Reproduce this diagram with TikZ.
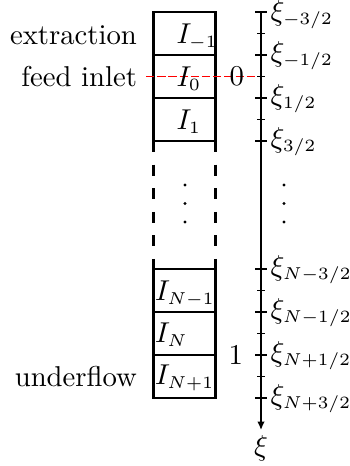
\documentclass[tikz,border=0pt]{standalone}
\usetikzlibrary{arrows.meta}
\DeclareMathSizes{10}{10}{6}{5}
\begin{document}
\begin{tikzpicture}[x=0.3484pt,y=-0.3484pt,
  cell/.style={draw,line width=0.7pt,minimum width=21.6pt,minimum height=14.98pt,inner sep=0pt,outer sep=0pt},
  gapline/.style={line width=0.7pt,dash pattern=on 3.83pt off 4.39pt},
  ilab/.style={inner sep=0pt,anchor=base west},
  leftlab/.style={inner sep=0pt,anchor=base east},
  xilab/.style={inner sep=0pt,anchor=base west},
  axisline/.style={line width=0.5pt,-{Latex[length=2.9pt,width=2.6pt]}},
  majtick/.style={line width=0.45pt},
  mintick/.style={line width=0.45pt},
  feedline/.style={red,line width=0.4pt,dash pattern=on 2.9pt off 1pt},
  dotmark/.style={circle,fill,inner sep=0pt,minimum size=1.2pt}]
\useasboundingbox (0,0) rectangle (349,466);
% cells
\node[cell] (cm1) at (184.5,33.5) {};
\node[cell] (c0)  at (184.5,76.5) {};
\node[cell] (c1)  at (184.5,119.5) {};
\node[cell] (cNm1) at (184.5,290.5) {};
\node[cell] (cN)  at (184.5,333.5) {};
\node[cell] (cNp1) at (184.5,376.5) {};
% dashed sides
\draw[gapline] (c1.south west) -- (cNm1.north west);
\draw[gapline] (c1.south east) -- (cNm1.north east);
% dots
\node[dotmark] (dl1) at (185,185) {};
\node[dotmark] (dl2) at (185,203.5) {};
\node[dotmark] (dl3) at (185,222) {};
\node[dotmark] (dr1) at (284,185) {};
\node[dotmark] (dr2) at (284,203.5) {};
\node[dotmark] (dr3) at (284,222) {};
% axis
\coordinate (axtop) at (261,12);
\coordinate (axend) at (261,430);
\draw[axisline] (axtop) -- (axend);
\foreach \y in {12,55,98,141,269,312,355,398}
  \draw[majtick] (255,\y) -- (267,\y);
\foreach \y in {33.5,76.5,119.5,290.5,333.5,376.5}
  \draw[mintick] (257,\y) -- (265,\y);
% feed line
\coordinate (feedL) at (146,76.5);
\coordinate (feedR) at (257,76.5);
\draw[feedline] (feedL) -- (feedR);
% cell labels
\node[ilab] (lm1) at (176,43) {$I_{-1}$};
\node[ilab] (l0)  at (176,86) {$I_0$};
\node[ilab] (l1)  at (176,129) {$I_1$};
\node[ilab] (lNm1) at (154.5,300) {$I_{N-1}$};
\node[ilab] (lN)  at (154.5,342.5) {$I_N$};
\node[ilab] (lNp1) at (154.5,384.5) {$I_{N+1}$};
% left labels
\node[leftlab] (ext) at (137.5,44) {extraction};
\node[leftlab] (feed) at (137.5,86) {feed inlet};
\node[leftlab] (under) at (137.5,386) {underflow};
\node[leftlab] (zero) at (244.5,85.5) {$0$};
\node[leftlab] (one) at (243.5,364) {$1$};
% xi labels
\node[xilab] (x1) at (270,20.5) {$\xi_{-3/2}$};
\node[xilab] (x2) at (270,61) {$\xi_{-1/2}$};
\node[xilab] (x3) at (270,104) {$\xi_{1/2}$};
\node[xilab] (x4) at (270,147) {$\xi_{3/2}$};
\node[xilab] (x5) at (270,275) {$\xi_{N-3/2}$};
\node[xilab] (x6) at (270,318) {$\xi_{N-1/2}$};
\node[xilab] (x7) at (270,361) {$\xi_{N+1/2}$};
\node[xilab] (x8) at (270,404) {$\xi_{N+3/2}$};
\node[inner sep=0pt,anchor=base] (xi) at (261,455) {$\xi$};
\end{tikzpicture}
\end{document}
